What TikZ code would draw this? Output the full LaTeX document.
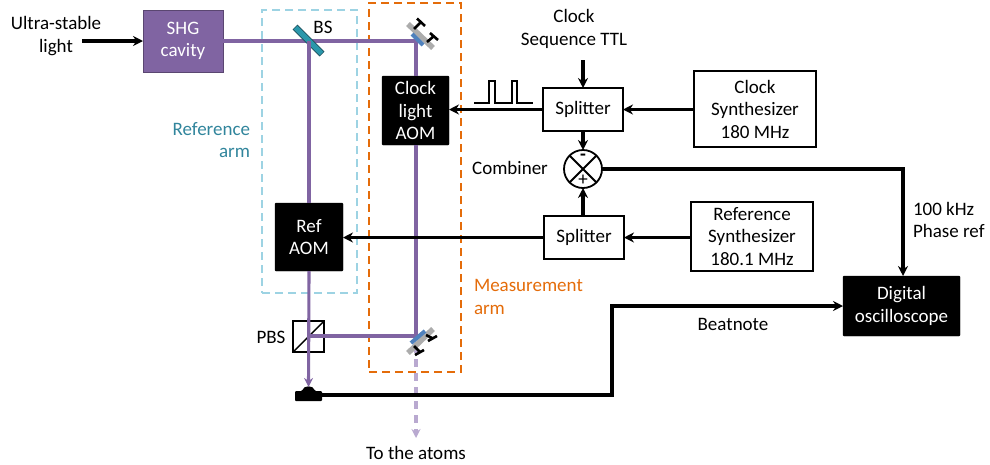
\documentclass[tikz,border=0pt]{standalone}
\usepackage{fontspec}
\setmainfont{Carlito}
\usetikzlibrary{arrows.meta,calc}
\definecolor{beam}{HTML}{8064A2}
\definecolor{beamlight}{HTML}{B9A9D0}
\definecolor{refc}{HTML}{31859C}
\definecolor{refdash}{HTML}{9DD3E3}
\definecolor{orangec}{HTML}{E46C0A}
\definecolor{mirrorblue}{HTML}{4F81BD}
\tikzset{
  x=1pt,y=-1pt,
  every node/.style={font=\fontsize{19}{22.5}\selectfont,align=center,inner sep=0pt,outer sep=0pt},
  wbox/.style={draw=black,line width=1.8pt,fill=white,text=black,anchor=north west},
  bbox/.style={draw=black,fill=black,text=white,rounded corners=1pt,anchor=north west},
  sig/.style={line width=3.1pt,draw=black,-{Stealth[length=10pt,width=10pt]}},
  lbeam/.style={line width=3.1pt,draw=beam},
  lbeamarrow/.style={lbeam,-{Stealth[length=9pt,width=9pt]}},
  dashref/.style={draw=refdash,line width=2pt,dash pattern=on 8pt off 5pt},
  dashmeas/.style={draw=orangec,line width=2pt,dash pattern=on 8pt off 5pt},
  holder/.style={draw=gray!65,line width=5.5pt},
  coat/.style={draw=mirrorblue,line width=4pt},
  screw/.style={draw=black,line width=2.6pt},
}
\begin{document}
\begin{tikzpicture}
\useasboundingbox (0,0) rectangle (990,464);
% dashed arms
\node[dashref,anchor=north west,minimum width=95pt,minimum height=283pt] (refarm) at (262,10) {};
\node[dashmeas,anchor=north west,minimum width=92pt,minimum height=369pt] (measarm) at (369,3) {};
% boxes
\node[draw=beam!70!black,line width=1pt,fill=beam,text=white,anchor=north west,minimum width=80pt,minimum height=62pt] (shg) at (143,10) {SHG\\cavity};
\coordinate (bs) at (309,41);
\coordinate (m1) at (416,41);
\coordinate (m2) at (416,336);
\coordinate (pbs) at (309,336);
\node[bbox,minimum width=67pt,minimum height=69pt] (clockaom) at (382,76) {Clock\\light\\AOM};
\node[bbox,minimum width=68pt,minimum height=68pt] (refaom) at (275,203) {Ref\\AOM};
\node[wbox,minimum width=80pt,minimum height=43pt] (split1) at (543,88) {\raisebox{-1.5pt}{Splitter}};
\node[wbox,minimum width=80pt,minimum height=43pt] (split2) at (544,216) {\raisebox{-1.5pt}{Splitter}};
\node[wbox,minimum width=122pt,minimum height=76pt] (clocksyn) at (694,71) {Clock\\Synthesizer\\180 MHz};
\node[wbox,minimum width=122pt,minimum height=69pt] (refsyn) at (691,202) {Reference\\Synthesizer\\180.1 MHz};
\node[bbox,minimum width=117pt,minimum height=60pt] (scope) at (843,276) {Digital\\oscilloscope};
\node[draw=black,line width=1.8pt,fill=white,circle,minimum size=38pt] (comb) at (583,169) {};
\draw[line width=1.8pt] (comb.north west) -- (comb.south east) (comb.north east) -- (comb.south west);
\node[font=\fontsize{19}{19}\selectfont\bfseries] at (583,157) {-};
\node[font=\fontsize{19}{19}\selectfont] at (583,180) {+};
\node[draw=black,line width=1.8pt,fill=white,anchor=north west,minimum size=31pt] (pbsbox) at (293,321) {};
\draw[line width=1.4pt] (pbsbox.south west) -- (pbsbox.north east);
% detector
\fill[black,rounded corners=1pt] (295,391) -- (302,391) .. controls (304,385) and (313,385) .. (315,391) -- (322,391) -- (322,401) -- (295,401) -- cycle;
\coordinate (det) at (308.5,387);
\coordinate (detr) at (322,395);
% beams
\draw[lbeam] (shg.east |- bs) -- (m1) -- (clockaom.north -| m1);
\draw[lbeam] (bs) -- (refaom.north -| bs);
\draw[lbeamarrow] (refaom.south -| bs) -- (det);
\draw[lbeam] (clockaom.south -| m2) -- (m2) -- (pbs);
\coordinate (atoms) at (416,438);
\draw[draw=beamlight,line width=3.1pt,dash pattern=on 8pt off 6pt,-{Stealth[length=9pt,width=9pt]}] (416,345) -- (atoms);
% BS
\draw[draw=refc!60!black,line width=7pt] (295,27) -- (322,54);
\draw[draw=refc!85!cyan,line width=5pt] (295.5,27.5) -- (321.5,53.5);
\draw[lbeam] (309,41) -- (309,55);
% upper mirror
\draw[holder] (408,24) -- (433,48);
\draw[coat] (412,34) -- (423,45);
\draw[screw] (414,29) -- (421,22) (417,18.5) -- (425,26);
\draw[screw] (427,42) -- (434,36) (430,33) -- (438,40);
% lower mirror
\draw[holder] (408,353) -- (433,329);
\draw[coat] (411,343) -- (425,331);
\draw[screw] (414,346) -- (420,352) (415,355) -- (424,350);
\draw[screw] (426,335) -- (432,338) (428,341) -- (437,336);
% signals
\draw[sig] (82,41) -- (shg.west);
\coordinate (ttl) at (583,60);
\draw[sig] (ttl) -- (split1.north -| ttl);
\draw[sig] (clocksyn.west |- split1) -- (split1.east);
\draw[sig] (split1.west) -- (clockaom.east |- split1);
\draw[sig] (split1.south -| comb) -- (comb.north);
\draw[sig] (split2.north -| comb) -- (comb.south);
\draw[sig] (refsyn.west |- split2) -- (split2.east);
\draw[sig] (split2.west) -- (refaom.east |- split2);
\draw[sig] (comb.east) -- (903,169) -- (scope.north -| 903,0);
\draw[sig] (detr) -- (612,395) -- (612,306) -- (scope.west);
% pulse
\draw[line width=1.1pt] (474,103) -- (489,103) -- (489,81) -- (495,81) -- (495,103) -- (512,103) -- (512,81) -- (517,81) -- (517,103) -- (533,103);
% labels
\node (l1) at (56,36) {Ultra-stable\\light};
\node[text=refc,align=right,anchor=east] (l2) at (250,140) {Reference\\arm};
\node (l3) at (323,27) {BS};
\node (l4) at (574,29) {Clock\\Sequence TTL};
\node (l5) at (510,168) {Combiner};
\node[align=left,anchor=west] (l6) at (913,220) {100 kHz\\Phase ref};
\node[text=orangec,align=left,anchor=west] (l7) at (474,297) {Measurement\\arm};
\node (l8) at (733,324) {Beatnote};
\node (l9) at (271,337) {PBS};
\node (l10) at (416,453) {To the atoms};
\end{tikzpicture}
\end{document}
